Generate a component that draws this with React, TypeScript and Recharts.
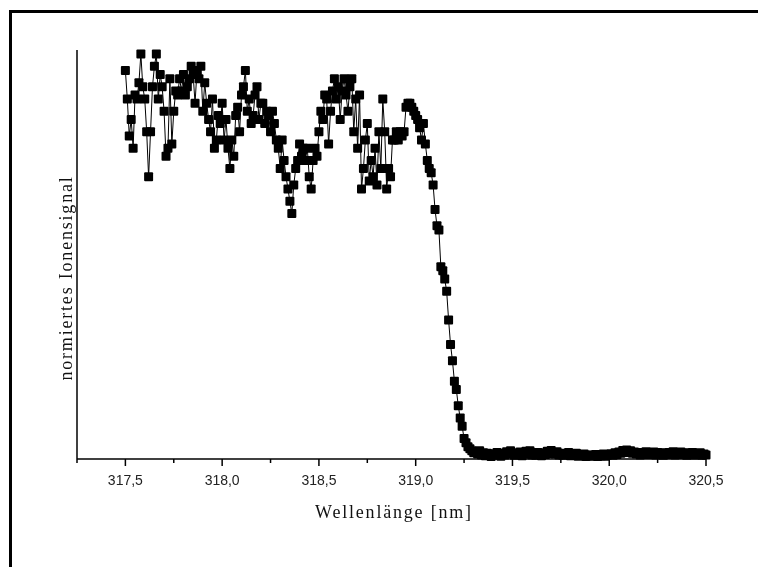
import { LineChart, Line, XAxis, YAxis } from "recharts";

// scan grid of the laser wavelength
const scanStart = 317.5;
const scanStep = 0.01;

// normalised ion signal in blocks of 0.5 nm
const signal317a = [
	0.95, 0.88, 0.79, 0.83, 0.76, 0.89, 0.88, 0.92, 0.99, 0.91,
	0.88, 0.8, 0.69, 0.8, 0.91, 0.96, 0.99, 0.88, 0.94, 0.91,
	0.85, 0.74, 0.76, 0.93, 0.77, 0.85, 0.9, 0.89, 0.93, 0.9,
	0.94, 0.89, 0.91, 0.93, 0.96, 0.94, 0.87, 0.95, 0.93, 0.96,
	0.85, 0.92, 0.87, 0.83, 0.8, 0.88, 0.76, 0.78, 0.84, 0.82,
];
const signal318a = [
	0.87, 0.78, 0.83, 0.76, 0.71, 0.78, 0.74, 0.84, 0.86, 0.8,
	0.89, 0.91, 0.95, 0.85, 0.88, 0.82, 0.84, 0.89, 0.91, 0.83,
	0.87, 0.87, 0.82, 0.85, 0.84, 0.8, 0.85, 0.82, 0.78, 0.76,
	0.71, 0.78, 0.73, 0.69, 0.66, 0.63, 0.6, 0.67, 0.71, 0.73,
	0.77, 0.74, 0.76, 0.73, 0.76, 0.69, 0.66, 0.73, 0.76, 0.74,
];
const signal318b = [
	0.8, 0.85, 0.83, 0.89, 0.88, 0.77, 0.85, 0.9, 0.93, 0.88,
	0.91, 0.83, 0.9, 0.93, 0.89, 0.85, 0.91, 0.93, 0.8, 0.88,
	0.76, 0.89, 0.66, 0.71, 0.78, 0.82, 0.68, 0.73, 0.69, 0.76,
	0.67, 0.8, 0.71, 0.88, 0.8, 0.66, 0.71, 0.69, 0.78, 0.78,
	0.8, 0.78, 0.8, 0.79, 0.8, 0.86, 0.87, 0.87, 0.86, 0.85,
];
const signal319a = [
	0.84, 0.83, 0.81, 0.78, 0.82, 0.77, 0.73, 0.71, 0.7, 0.67,
	0.61, 0.57, 0.56, 0.47, 0.46, 0.44, 0.41, 0.34, 0.28, 0.24,
	0.19, 0.17, 0.13, 0.1, 0.08, 0.05, 0.04, 0.03, 0.025, 0.02,
	0.015, 0.018, 0.012, 0.02, 0.01, 0.015, 0.008, 0.014, 0.011, 0.006,
	0.013, 0.009, 0.016, 0.011, 0.007, 0.014, 0.01, 0.018, 0.012, 0.02,
];
const signal319b = [
	0.013, 0.009, 0.015, 0.011, 0.017, 0.008, 0.013, 0.019, 0.012, 0.02,
	0.01, 0.014, 0.009, 0.016, 0.012, 0.008, 0.015, 0.011, 0.019, 0.013,
	0.021, 0.015, 0.012, 0.018, 0.01, 0.014, 0.009, 0.013, 0.011, 0.016,
	0.008, 0.012, 0.01, 0.014, 0.007, 0.011, 0.009, 0.012, 0.006, 0.01,
	0.008, 0.009, 0.007, 0.011, 0.006, 0.01, 0.008, 0.012, 0.007, 0.009,
];
const signal320a = [
	0.011, 0.013, 0.009, 0.015, 0.011, 0.017, 0.014, 0.021, 0.016, 0.022,
	0.018, 0.02, 0.014, 0.017, 0.012, 0.016, 0.01, 0.014, 0.012, 0.018,
	0.011, 0.015, 0.013, 0.017, 0.01, 0.016, 0.012, 0.014, 0.009, 0.015,
	0.011, 0.016, 0.012, 0.018, 0.01, 0.014, 0.013, 0.017, 0.011, 0.015,
	0.009, 0.014, 0.012, 0.016, 0.01, 0.013, 0.011, 0.015, 0.009, 0.012,
	0.01,
];

const signal = [
	...signal317a,
	...signal318a,
	...signal318b,
	...signal319a,
	...signal319b,
	...signal320a,
];

const data = signal.map((v, i) => ({
	nm: Number((scanStart + i * scanStep).toFixed(2)),
	signal: v,
}));

const xTicks = [
	317.25, 317.5, 317.75, 318, 318.25, 318.5, 318.75, 319, 319.25, 319.5,
	319.75, 320, 320.25, 320.5,
];
const xLabels = [317.5, 318, 318.5, 319, 319.5, 320, 320.5];
const yTicks = [0, 0.1, 0.2, 0.3, 0.4, 0.5, 0.6, 0.7, 0.8, 0.9, 1];

const serif = "'Liberation Serif', 'Times New Roman', serif";
const sans = "'Liberation Sans', Arial, sans-serif";

function WaveTick(props: any) {
	const { x, y, payload } = props;
	const major = xLabels.includes(payload.value);
	return (
		<g>
			<line
				x1={x}
				x2={x}
				y1={y}
				y2={y + (major ? 7 : 4)}
				stroke="#000"
				strokeWidth={1.5}
			/>
			{major && (
				<text
					x={x}
					y={y + 26}
					textAnchor="middle"
					fontFamily={sans}
					fontSize={14}
					fill="#222"
				>
					{payload.value.toFixed(1).replace(".", ",")}
				</text>
			)}
		</g>
	);
}

function SquareDot(props: any) {
	const { cx, cy, index } = props;
	return (
		<rect
			key={`sq-${index}`}
			x={cx - 4.5}
			y={cy - 4.5}
			width={9}
			height={9}
			rx={1}
			fill="#000"
		/>
	);
}

export default function App() {
	return (
		<div>
			<div
				style={{
					position: "fixed",
					left: 9,
					top: 10,
					width: 749,
					height: 557,
					borderTop: "3px solid #000",
					borderLeft: "3px solid #000",
					boxSizing: "border-box",
				}}
			/>
			<LineChart
				width={742}
				height={551}
				data={data}
				margin={{ top: 42, right: 44, bottom: 60, left: 9 }}
			>
				<XAxis
					dataKey="nm"
					type="number"
					domain={[317.25, 320.5]}
					ticks={xTicks}
					interval={0}
					tickSize={0}
					tickMargin={0}
					tickLine={false}
					tick={<WaveTick />}
					height={40}
					axisLine={{ stroke: "#000", strokeWidth: 1.5 }}
					label={{
						content: () => (
							<text
								x={386}
								y={510}
								textAnchor="middle"
								fontFamily={serif}
								fontSize={18}
								letterSpacing={1.8}
								fill="#111"
							>
								Wellenlänge [nm]
							</text>
						),
					}}
				/>
				<YAxis
					type="number"
					domain={[0, 1]}
					ticks={yTicks}
					width={60}
					tick={false}
					tickSize={3}
					tickLine={{ stroke: "#000", strokeWidth: 1.2 }}
					axisLine={{ stroke: "#000", strokeWidth: 1.5 }}
					label={{
						content: () => (
							<text
								x={64}
								y={270}
								transform="rotate(-90 64 270)"
								textAnchor="middle"
								fontFamily={serif}
								fontSize={18}
								letterSpacing={1.8}
								fill="#111"
							>
								normiertes Ionensignal
							</text>
						),
					}}
				/>
				<Line
					dataKey="signal"
					type="linear"
					stroke="#000"
					strokeWidth={1}
					dot={SquareDot}
					activeDot={false}
					isAnimationActive={false}
				/>
			</LineChart>
		</div>
	);
}
